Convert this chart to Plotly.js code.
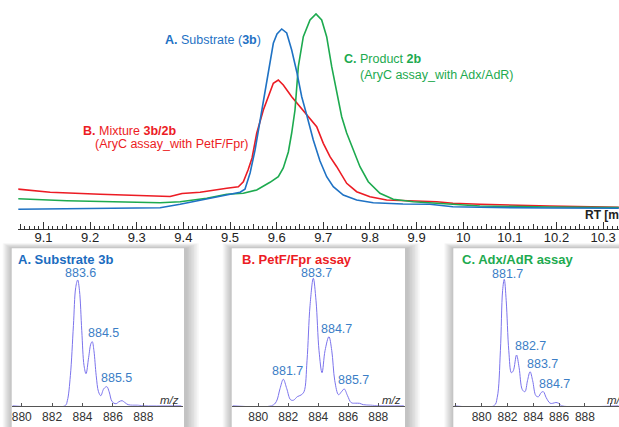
<!DOCTYPE html>
<html>
<head>
<meta charset="utf-8">
<script src="https://cdn.plot.ly/plotly-3.0.1.min.js"></script>
<style>html,body{margin:0;padding:0;background:#fff;}#chart{width:619px;height:427px;}</style>
</head>
<body>
<div id="chart"></div>
<script>
// ---------- DATA: chromatogram (RT in min, intensity in arbitrary units) ----------
const rtBlue = [9.043,9.2215,9.35,9.393,9.45,9.493,9.5215,9.532,9.543,9.5536,9.5686,9.5815,9.5928,9.6007,9.6108,9.6215,9.6322,9.643,9.6537,9.6644,9.6785,9.6929,9.7072,9.7214,9.7428,9.7715,9.8071,9.8707,9.9286,9.9779,10.0357,10.1857,10.3336];
const intBlue = [17.4,18.0,19.0,22.4,27.4,31.7,34.4,37.4,53.7,76.7,116.7,154.7,183.4,192.7,197.7,193.7,176.7,155,130,111.7,86.7,65.7,50,40,31.7,26.7,24,22.7,22.4,20,19.4,18.7,18.4];

const rtRed = [9.043,9.1144,9.2215,9.35,9.3715,9.3972,9.4358,9.493,9.5178,9.5285,9.5386,9.5472,9.5572,9.5714,9.5821,9.5928,9.6035,9.6142,9.6322,9.65,9.6678,9.6858,9.7,9.7143,9.7287,9.7501,9.7715,9.8,9.8358,9.8928,9.9429,9.9779,10.0357,10.1857,10.3336];
const intRed = [37.7,34.4,32.4,30,30.2,33.2,34.4,38.4,40,45,56.7,68.7,93.4,116.7,130,143.4,146.7,141.7,130,120,110,100,83.4,70,60,43.4,35,30,26.7,25.7,25,23.4,22.4,20.7,19.4];

const rtGreen = [9.0394,9.15,9.35,9.3929,9.45,9.493,9.5285,9.5572,9.5857,9.6035,9.6142,9.625,9.6322,9.6393,9.6464,9.6571,9.6715,9.6843,9.6965,9.7072,9.718,9.7287,9.7394,9.7501,9.7642,9.7786,9.7964,9.8214,9.85,9.8928,9.9429,10.0357,10.1857,10.3336];
const intGreen = [28,26,24,25,28.4,32.4,33.4,36.7,44.4,50,58.7,74.7,93.7,116.7,160,190,206.7,212.7,206.7,190,160,133.4,110,93.7,76.7,60,45,33.4,27.4,25,23.4,20.7,19.7,19.2];

const rtTickVals = [9.1,9.2,9.3,9.4,9.5,9.6,9.7,9.8,9.9,10,10.1,10.2,10.3];
const rtTickText = ['9.1','9.2','9.3','9.4','9.5','9.6','9.7','9.8','9.9','10','10.1','10.2','10.3'];
const rtMidTicks = [9.05,9.15,9.25,9.35,9.45,9.55,9.65,9.75,9.85,9.95,10.05,10.15,10.25];

// ---------- DATA: mass spectra (m/z, relative intensity) ----------
const mzA = [879.4,882.85,883.0,883.2,883.4,883.55,883.68,883.8,883.95,884.1,884.23,884.4,884.55,884.64,884.75,884.9,885.05,885.2,885.4,885.6,885.75,885.95,886.2,886.4,886.6,886.8,887.0,887.3,887.6,888.0,890.5];
const intA = [0,0,5,30,80,118,125.7,115,75,40,32,48,62,64,55,30,14,10,17,19,14,4,2,4,5,3,1,0.5,0.5,0,0];

const mzB = [878.3,880.9,881.2,881.45,881.67,881.9,882.15,882.35,882.6,882.85,883.05,883.25,883.45,883.67,883.85,884.05,884.25,884.45,884.71,884.9,885.1,885.35,885.55,885.73,885.95,886.2,886.5,886.75,887.0,887.5,888.0,889.7];
const intB = [0,0,4,17,26.4,17,6,5.5,9,10.7,14,45,100,127.4,105,55,33,55,69,55,25,11,14,16.7,10,3,2.5,2.4,1,0.5,0,0];

const mzC = [877.9,880.95,881.2,881.45,881.62,881.75,881.9,882.1,882.3,882.45,882.7,882.9,883.15,883.35,883.55,883.75,883.95,884.2,884.4,884.6,884.78,885.0,885.3,885.5,885.75,885.95,886.2,890.6];
const intC = [0,0,8,55,115,126.4,105,55,33,35,50.7,38,16,14,25,34,25,10,9,13,14,8,2.5,2.4,3.2,2.5,0,0];

const msTickVals = [878,880,882,884,886,888,890];
const msTickText = ['','880','882','884','886','888',''];

// peak labels: [text, m/z position, height]
const peaksA = [['883.6',883.84,132.4],['884.5',885.35,73],['885.5',886.25,28]];
const peaksB = [['883.7',883.85,132.4],['884.7',885.23,76.4],['881.7',881.96,34.7],['885.7',886.38,25.7]];
const peaksC = [['881.7',881.98,131.4],['882.7',883.82,59.7],['883.7',884.73,41.7],['884.7',885.63,21.4]];

// ---------- LAYOUT helpers ----------
const W = 619, H = 427;
const fx = p => p / W;
const fy = p => 1 - p / H;

const cBlue = '#1f72c4', cRed = '#ec1c24', cGreen = '#1daa4f';
const FONT = 'Liberation Sans, Arial, sans-serif';

const traces = [
  {x: rtRed, y: intRed, type: 'scatter', mode: 'lines', line: {color: cRed, width: 1.6}, xaxis: 'x', yaxis: 'y', hoverinfo: 'skip'},
  {x: rtGreen, y: intGreen, type: 'scatter', mode: 'lines', line: {color: cGreen, width: 1.6}, xaxis: 'x', yaxis: 'y', hoverinfo: 'skip'},
  {x: rtBlue, y: intBlue, type: 'scatter', mode: 'lines', line: {color: cBlue, width: 1.6}, xaxis: 'x', yaxis: 'y', hoverinfo: 'skip'},
  {x: [rtMidTicks[0]], y: [0], type: 'scatter', mode: 'none', xaxis: 'x5', yaxis: 'y', hoverinfo: 'skip'},
  {x: mzA, y: intA, type: 'scatter', mode: 'lines', line: {color: '#7b73ec', width: 1, shape: 'spline', smoothing: 1}, xaxis: 'x2', yaxis: 'y2', hoverinfo: 'skip'},
  {x: mzB, y: intB, type: 'scatter', mode: 'lines', line: {color: '#7b73ec', width: 1, shape: 'spline', smoothing: 1}, xaxis: 'x3', yaxis: 'y3', hoverinfo: 'skip'},
  {x: mzC, y: intC, type: 'scatter', mode: 'lines', line: {color: '#7b73ec', width: 1, shape: 'spline', smoothing: 1}, xaxis: 'x4', yaxis: 'y4', hoverinfo: 'skip'}
];

const topBase = 226.7;      // pixel row of intensity zero
const topAxisY = 229;       // pixel row of the RT axis line
const insetTop = 248.3, insetAxisY = 405.7;

function msAxis(d0, d1, r0, r1, anchor) {
  return {
    domain: [fx(d0), fx(d1)], range: [r0, r1], anchor: anchor,
    showline: true, linecolor: '#555', linewidth: 1.5,
    tickvals: msTickVals, ticktext: msTickText, ticks: 'inside', ticklen: 3, tickcolor: '#555', tickwidth: 1,
    ticklabelstandoff: -1,
    tickfont: {family: FONT, size: 12, color: '#333'},
    showgrid: false, zeroline: false, fixedrange: true
  };
}
function msY(anchor) {
  return {domain: [fy(insetAxisY), fy(insetTop)], range: [0, insetAxisY - insetTop], anchor: anchor, visible: false, fixedrange: true};
}

const shapes = [];
function box(x0, y0, x1, y1) {
  for (let i = 8; i >= 1; i--) {
    const e = i * 1.6;
    shapes.push({type: 'rect', xref: 'paper', yref: 'paper', layer: 'below',
      x0: fx(x0 - e * 0.7), x1: fx(x1 + e + 2), y0: fy(y1 + e), y1: fy(y0 - e * 0.4),
      line: {width: 0}, fillcolor: 'rgba(0,0,0,0.03)'});
  }
  shapes.push({type: 'rect', xref: 'paper', yref: 'paper', layer: 'below',
    x0: fx(x0), x1: fx(x1), y0: fy(y1), y1: fy(y0), line: {width: 0}, fillcolor: '#ffffff'});
}
box(11.7, insetTop, 184, 440);
box(231.7, insetTop, 405, 440);
box(453.3, insetTop, 640, 440);

const annotations = [
  {x: 9.5714, y: 186.7, xref: 'x', yref: 'y', xanchor: 'right', yanchor: 'middle', showarrow: false,
   text: '<b>A.</b> Substrate (<b>3b</b>)', font: {family: FONT, size: 12.5, color: cBlue}},
  {x: 9.74, y: 167.7, xref: 'x', yref: 'y', xanchor: 'left', yanchor: 'middle', showarrow: false,
   text: '<b>C.</b> Product <b>2b</b>', font: {family: FONT, size: 12.5, color: cGreen}},
  {x: 9.7737, y: 152.2, xref: 'x', yref: 'y', xanchor: 'left', yanchor: 'middle', showarrow: false,
   text: '(AryC assay_with Adx/AdR)', font: {family: FONT, size: 12.5, color: cGreen}},
  {x: 9.1801, y: 96, xref: 'x', yref: 'y', xanchor: 'left', yanchor: 'middle', showarrow: false,
   text: '<b>B.</b> Mixture <b>3b/2b</b>', font: {family: FONT, size: 12.5, color: cRed}},
  {x: 9.2071, y: 82.7, xref: 'x', yref: 'y', xanchor: 'left', yanchor: 'middle', showarrow: false,
   text: '(AryC assay_with PetF/Fpr)', font: {family: FONT, size: 12.5, color: cRed}},
  {x: fx(583), y: fy(215), xref: 'paper', yref: 'paper', xanchor: 'left', yanchor: 'middle', showarrow: false,
   text: '<b>RT [min]</b>', font: {family: FONT, size: 12, color: '#222'}},
  // inset titles
  {x: fx(16), y: fy(259), xref: 'paper', yref: 'paper', xanchor: 'left', yanchor: 'middle', showarrow: false,
   text: '<b>A. Substrate 3b</b>', font: {family: FONT, size: 13, color: '#1b6cc0'}},
  {x: fx(240), y: fy(259), xref: 'paper', yref: 'paper', xanchor: 'left', yanchor: 'middle', showarrow: false,
   text: '<b>B. PetF/Fpr assay</b>', font: {family: FONT, size: 13, color: cRed}},
  {x: fx(460), y: fy(259), xref: 'paper', yref: 'paper', xanchor: 'left', yanchor: 'middle', showarrow: false,
   text: '<b>C. Adx/AdR assay</b>', font: {family: FONT, size: 13, color: cGreen}},
  // m/z labels
  {x: fx(181), y: fy(399.5), xref: 'paper', yref: 'paper', xanchor: 'right', yanchor: 'middle', showarrow: false,
   text: '<i>m/z</i>', font: {family: FONT, size: 11.5, color: '#333'}},
  {x: fx(403), y: fy(399.5), xref: 'paper', yref: 'paper', xanchor: 'right', yanchor: 'middle', showarrow: false,
   text: '<i>m/z</i>', font: {family: FONT, size: 11.5, color: '#333'}},
  {x: fx(605), y: fy(399.5), xref: 'paper', yref: 'paper', xanchor: 'left', yanchor: 'middle', showarrow: false,
   text: '<i>m/z</i>', font: {family: FONT, size: 11.5, color: '#333'}}
];
function addPeaks(list, xr, yr) {
  list.forEach(p => annotations.push({x: p[1], y: p[2], xref: xr, yref: yr, xanchor: 'center', yanchor: 'middle',
    showarrow: false, text: p[0], font: {family: FONT, size: 12.5, color: '#3b7ec6'}}));
}
addPeaks(peaksA, 'x2', 'y2');
addPeaks(peaksB, 'x3', 'y3');
addPeaks(peaksC, 'x4', 'y4');

const layout = {
  width: W, height: H, margin: {l: 0, r: 0, t: 0, b: 0},
  paper_bgcolor: '#ffffff', plot_bgcolor: 'rgba(0,0,0,0)',
  showlegend: false,
  xaxis: {
    domain: [fx(18.3), 1], range: [9.046, 10.334], anchor: 'y',
    showline: true, linecolor: '#333', linewidth: 1,
    tickvals: rtTickVals, ticktext: rtTickText, ticks: 'inside', ticklen: 7, tickcolor: '#333', tickwidth: 1,
    ticklabelstandoff: -4,
    minor: {dtick: 0.01, tick0: 9.0, ticks: 'inside', ticklen: 3, tickcolor: '#333', tickwidth: 1},
    tickfont: {family: FONT, size: 13, color: '#222'},
    showgrid: false, zeroline: false, fixedrange: true
  },
  xaxis5: {
    overlaying: 'x', matches: 'x', anchor: 'y', side: 'bottom',
    tickvals: rtMidTicks, ticks: 'inside', ticklen: 5, tickcolor: '#333', tickwidth: 1,
    showticklabels: false, showline: false, showgrid: false, zeroline: false, fixedrange: true
  },
  yaxis: {domain: [fy(topAxisY), 1], range: [topBase - topAxisY, topBase], visible: false, fixedrange: true},
  xaxis2: msAxis(11.7, 183, 879.34, 890.61, 'y2'),
  yaxis2: msY('x2'),
  xaxis3: msAxis(231.7, 405, 878.23, 889.78, 'y3'),
  yaxis3: msY('x3'),
  xaxis4: msAxis(453.3, 619, 877.8, 890.64, 'y4'),
  yaxis4: msY('x4'),
  shapes: shapes,
  annotations: annotations
};

Plotly.newPlot('chart', traces, layout, {staticPlot: true, displayModeBar: false});
</script>
</body>
</html>
